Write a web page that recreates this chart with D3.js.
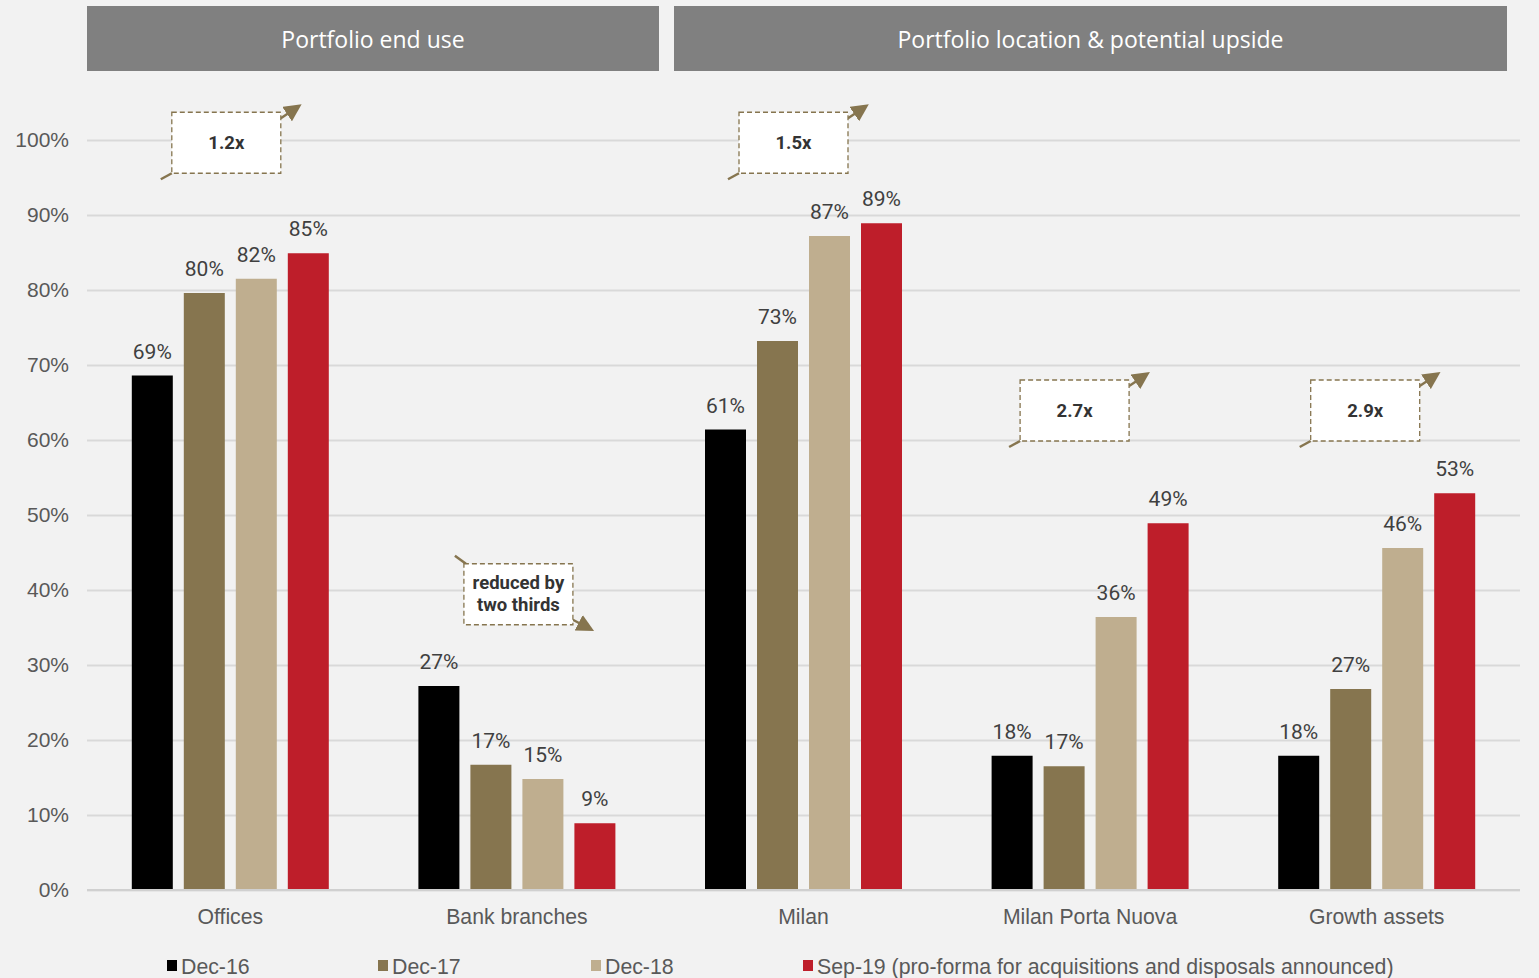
<!DOCTYPE html>
<html>
<head>
<meta charset="utf-8">
<script src="https://cdn.jsdelivr.net/npm/d3@7"></script>
<style>
  body { margin: 0; background: #f2f2f2; }
  svg { display: block; }
</style>
</head>
<body>
<div id="viz-container"></div>
<script>
// data
let categories = ["Offices", "Bank branches", "Milan", "Milan Porta Nuova", "Growth assets"];
let seriesNames = ["Dec-16", "Dec-17", "Dec-18", "Sep-19 (pro-forma for acquisitions and disposals announced)"];
let dec16 = [68.6, 27.2, 61.4, 17.9, 17.9];
let dec17 = [79.6, 16.7, 73.2, 16.5, 26.8];
let dec18 = [81.5, 14.8, 87.2, 36.4, 45.6];
let sep19 = [84.9, 8.9, 88.9, 48.9, 52.9];
let seriesValues = [dec16, dec17, dec18, sep19];
let yTicks = [0, 10, 20, 30, 40, 50, 60, 70, 80, 90, 100];
let headers = ["Portfolio end use", "Portfolio location & potential upside"];
let annotationLabels = [["1.2x"], ["reduced by", "two thirds"], ["1.5x"], ["2.7x"], ["2.9x"]];
let annotationDirection = ["up", "down", "up", "up", "up"];

let colors = ["#000000", "#86754f", "#bfae8f", "#be1e2a"];
let W = 1539, H = 978;

let viz = d3.select("#viz-container")
  .append("svg")
    .attr("width", W)
    .attr("height", H)
;
viz.append("rect").attr("width", W).attr("height", H).attr("fill", "#f2f2f2");

let x0 = d3.scaleBand().domain(categories).range([87, 1520]);
let x1 = d3.scaleBand().domain(d3.range(4)).range([-98.5, 98.5]).paddingInner(11 / 52);
let y = d3.scaleLinear().domain([0, 100]).range([890, 140]);

// header boxes
let headerBoxes = [[87, 659], [674, 1507]];
headers.forEach(function(h, i){
  let b = headerBoxes[i];
  viz.append("rect")
    .attr("x", b[0]).attr("y", 6)
    .attr("width", b[1] - b[0]).attr("height", 65)
    .attr("fill", "#808080");
  viz.append("text")
    .text(h)
    .attr("x", (b[0] + b[1]) / 2)
    .attr("y", 48)
    .attr("text-anchor", "middle")
    .attr("font-family", "Open Sans")
    .attr("font-size", 23)
    .attr("fill", "#ffffff");
});

// gridlines + y axis
let yAxis = d3.axisLeft(y)
  .tickValues(yTicks)
  .tickSize(-(1520 - 87))
  .tickPadding(18)
  .tickFormat(function(d){ return d + "%"; });
let yg = viz.append("g").attr("transform", "translate(87,0)").call(yAxis);
yg.select(".domain").remove();
yg.selectAll(".tick line").attr("stroke", "#d9d9d9").attr("stroke-width", 2);
yg.selectAll(".tick text")
  .attr("font-family", "Liberation Sans")
  .attr("font-size", 21)
  .attr("fill", "#595959");

// bars
let groups = viz.selectAll(".datagroup").data(categories).enter()
  .append("g")
    .attr("class", "datagroup")
    .attr("transform", function(d){ return "translate(" + (x0(d) + x0.bandwidth() / 2) + ",0)"; })
;
groups.each(function(cat, ci){
  let g = d3.select(this);
  let vals = seriesValues.map(function(s){ return s[ci]; });
  g.selectAll("rect").data(vals).enter()
    .append("rect")
      .attr("x", function(d, i){ return x1(i); })
      .attr("y", function(d){ return y(d); })
      .attr("width", x1.bandwidth())
      .attr("height", function(d){ return y(0) - y(d); })
      .attr("fill", function(d, i){ return colors[i]; });
  g.selectAll("text.val").data(vals).enter()
    .append("text")
      .attr("class", "val")
      .text(function(d){ return Math.round(d) + "%"; })
      .attr("x", function(d, i){ return x1(i) + x1.bandwidth() / 2; })
      .attr("y", function(d){ return y(d) - 17; })
      .attr("text-anchor", "middle")
      .attr("font-family", "Roboto")
      .attr("font-size", 21)
      .attr("fill", "#404040");
});

// baseline
viz.append("line")
  .attr("x1", 87).attr("x2", 1520)
  .attr("y1", y(0)).attr("y2", y(0))
  .attr("stroke", "#d0d0d0").attr("stroke-width", 2);

// x axis labels
let xAxis = d3.axisBottom(x0).tickSize(0).tickPadding(19);
let xg = viz.append("g").attr("transform", "translate(0," + y(0) + ")").call(xAxis);
xg.select(".domain").remove();
xg.selectAll(".tick text")
  .attr("font-family", "Liberation Sans")
  .attr("font-size", 21.2)
  .attr("fill", "#595959");

// annotation boxes
let annDx = [-4, 1.5, -10, -15.5, -11.5];
let annTop = [103.7, 43.5, 103.7, 68, 68];
let arrowColor = "#86754f";
viz.append("defs").append("marker")
  .attr("id", "arrowhead")
  .attr("viewBox", "0 0 10 10")
  .attr("refX", 6).attr("refY", 5)
  .attr("markerWidth", 7).attr("markerHeight", 7)
  .attr("orient", "auto")
  .append("path")
    .attr("d", "M0,0 L10,5 L0,10 z")
    .attr("fill", arrowColor);

categories.forEach(function(cat, i){
  let bw = 109, bh = 61;
  let cx = x0(cat) + x0.bandwidth() / 2 + annDx[i];
  let bx = cx - bw / 2;
  let by = y(annTop[i]);
  let a = viz.append("g");
  if (annotationDirection[i] == "up"){
    a.append("line")
      .attr("x1", bx).attr("y1", by + bh)
      .attr("x2", bx - 11).attr("y2", by + bh + 6)
      .attr("stroke", arrowColor).attr("stroke-width", 2.5);
    a.append("line")
      .attr("x1", bx + bw).attr("y1", by + 6)
      .attr("x2", bx + bw + 15).attr("y2", by - 4)
      .attr("stroke", arrowColor).attr("stroke-width", 2.5)
      .attr("marker-end", "url(#arrowhead)");
  } else {
    a.append("line")
      .attr("x1", bx + 2).attr("y1", by)
      .attr("x2", bx - 9).attr("y2", by - 8)
      .attr("stroke", arrowColor).attr("stroke-width", 2.5);
    a.append("line")
      .attr("x1", bx + bw).attr("y1", by + bh - 5)
      .attr("x2", bx + bw + 15).attr("y2", by + bh + 3)
      .attr("stroke", arrowColor).attr("stroke-width", 2.5)
      .attr("marker-end", "url(#arrowhead)");
  }
  a.append("rect")
    .attr("x", bx).attr("y", by)
    .attr("width", bw).attr("height", bh)
    .attr("fill", "#ffffff")
    .attr("stroke", arrowColor)
    .attr("stroke-width", 1.3)
    .attr("stroke-dasharray", "5,3");
  let lines = annotationLabels[i];
  lines.forEach(function(t, li){
    a.append("text")
      .text(t)
      .attr("x", bx + bw / 2)
      .attr("y", by + bh / 2 + 6 + (li - (lines.length - 1) / 2) * 22)
      .attr("text-anchor", "middle")
      .attr("font-family", "Roboto")
      .attr("font-weight", "bold")
      .attr("font-size", 18.5)
      .attr("fill", "#333333");
  });
});

// legend
let legendX = [167, 378, 591, 803];
seriesNames.forEach(function(s, i){
  viz.append("rect")
    .attr("x", legendX[i]).attr("y", 960)
    .attr("width", 10).attr("height", 11)
    .attr("fill", colors[i]);
  viz.append("text")
    .text(s)
    .attr("x", legendX[i] + 14)
    .attr("y", 974)
    .attr("font-family", "Liberation Sans")
    .attr("font-size", 21.3)
    .attr("fill", "#595959");
});
</script>
</body>
</html>
